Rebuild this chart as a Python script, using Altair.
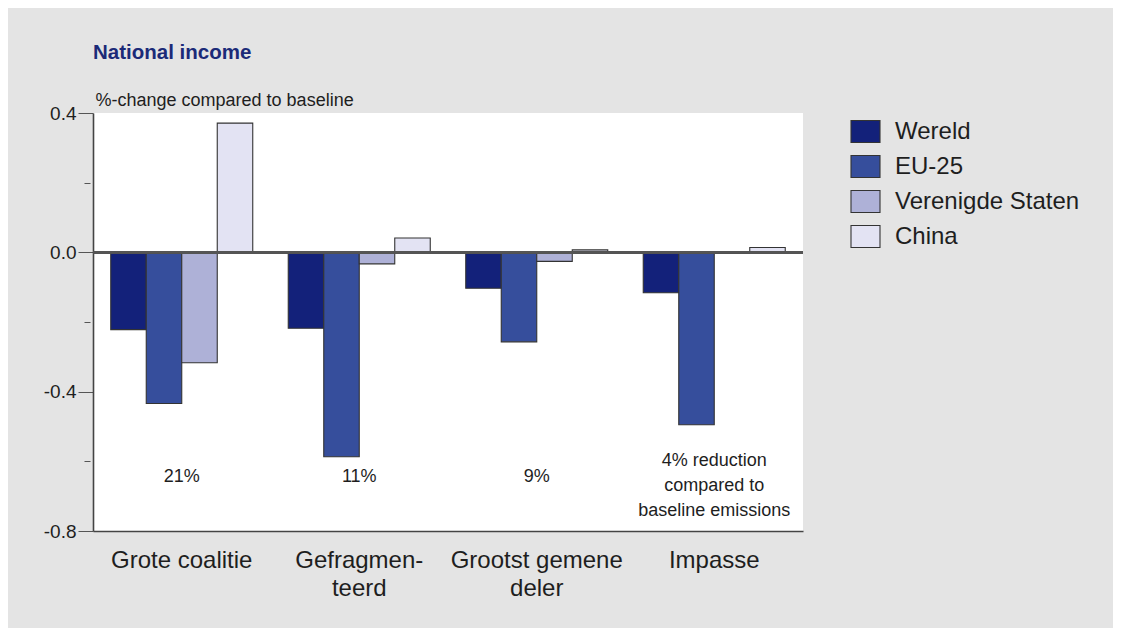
import altair as alt
import pandas as pd

categories = ["Grote coalitie", "Gefragmen-|teerd", "Grootst gemene|deler", "Impasse"]
series = ["Wereld", "EU-25", "Verenigde Staten", "China"]
colors = ["#13217a", "#364e9c", "#aeb1d7", "#e3e3f3"]

wereld = [-0.222, -0.218, -0.103, -0.116]
eu25 = [-0.434, -0.587, -0.257, -0.495]
vs = [-0.317, -0.033, -0.026, -0.003]
china = [0.371, 0.041, 0.007, 0.014]

notes = ["21%", "11%", "9%", "4% reduction\ncompared to\nbaseline emissions"]
note_pos = [-0.645, -0.645, -0.645, -0.6]

y_ticks = [0.4, 0.2, 0.0, -0.2, -0.4, -0.6, -0.8]

rows = []
for s, vals in zip(series, [wereld, eu25, vs, china]):
    for c, v in zip(categories, vals):
        rows.append({"scenario": c, "region": s, "value": v})
df = pd.DataFrame(rows)
notes_df = pd.DataFrame({"scenario": categories, "note": notes, "pos": note_pos})

FONT = "Liberation Sans, Arial, sans-serif"
minor_test = "round(datum.value*10) % 4 != 0"

x_enc = alt.X(
    "scenario:N",
    sort=categories,
    scale=alt.Scale(paddingInner=0.2, paddingOuter=0.1),
    axis=alt.Axis(
        title=None,
        labelExpr="split(datum.label, '|')",
        labelAngle=0,
        labelFontSize=24,
        labelLineHeight=28,
        labelPadding=17,
        labelColor="#1e1e1e",
        ticks=False,
        domainColor="#444444",
        domainWidth=1.6,
    ),
)

y_scale = alt.Scale(domain=[-0.8, 0.4], nice=False, zero=False)

bars = alt.Chart(df).mark_bar(stroke="#333333", strokeWidth=1.1).encode(
    x=x_enc,
    xOffset=alt.XOffset("region:N", sort=series),
    y=alt.Y(
        "value:Q",
        scale=y_scale,
        axis=alt.Axis(
            values=y_ticks,
            labelExpr="round(datum.value*10) % 4 == 0 ? replace(format(datum.value, '.1f'), '\u2212', '-') : ''",
            labelFontSize=19,
            labelColor="#1e1e1e",
            labelPadding=2,
            tickSize=15,
            tickColor="#555555",
            tickWidth=1.1,
            tickDash={"condition": {"test": minor_test, "value": [0, 3, 6, 40]}, "value": [1, 0]},
            grid=False,
            domainColor="#444444",
            domainWidth=1.6,
            title="%-change compared to baseline",
            titleAngle=0,
            titleAlign="left",
            titleBaseline="alphabetic",
            titleX=2,
            titleY=-8,
            titleFontSize=18,
            titleFontWeight="normal",
            titleColor="#1e1e1e",
        ),
    ),
    color=alt.Color(
        "region:N",
        sort=series,
        scale=alt.Scale(domain=series, range=colors),
        legend=alt.Legend(
            title=None,
            orient="none",
            legendX=757,
            legendY=3,
            symbolType="M-1,-0.76H1V0.76H-1Z",
            symbolSize=841,
            symbolStrokeColor="#333333",
            symbolStrokeWidth=1.1,
            labelFontSize=24,
            labelColor="#1e1e1e",
            labelOffset=14,
            labelLimit=300,
            rowPadding=6,
            padding=0,
        ),
    ),
)

zero = alt.Chart(df).mark_rule(color="#555555", strokeWidth=1.6).encode(y=alt.datum(0))

note_text = alt.Chart(notes_df).mark_text(
    fontSize=18, color="#1e1e1e", lineBreak="\n", lineHeight=25, baseline="middle", align="center"
).encode(
    x=alt.X("scenario:N", sort=categories),
    y=alt.Y("pos:Q", scale=y_scale),
    text="note:N",
)

chart = (
    alt.layer(bars, zero, note_text)
    .properties(
        width=710,
        height=418,
        autosize=alt.AutoSizeParams(type="none"),
        padding={"left": 85, "top": 105, "right": 310, "bottom": 97},
        title=alt.TitleParams(
            "National income",
            anchor="start",
            frame="group",
            fontSize=20.5,
            fontWeight="bold",
            color="#1b2a78",
            offset=28,
        ),
    )
    .configure(background="#e4e4e4", font=FONT)
    .configure_view(fill="white", strokeWidth=0)
)

chart.save("out.html", embed_options={"renderer": "svg", "actions": False})
